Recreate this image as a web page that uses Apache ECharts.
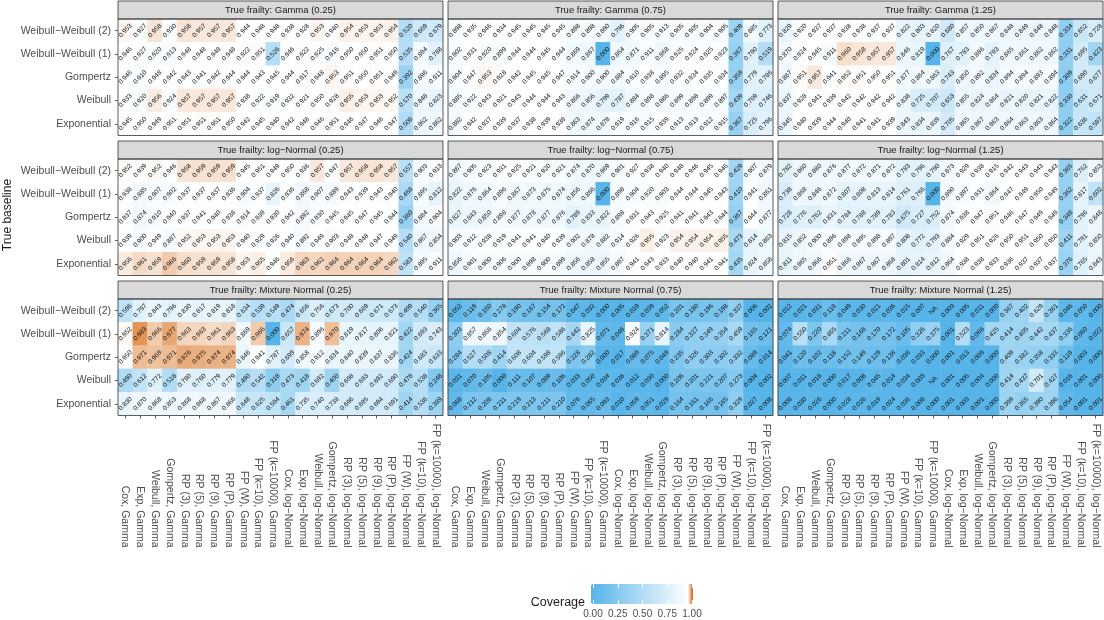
<!DOCTYPE html>
<html>
<head>
<meta charset="utf-8">
<script src="https://cdn.jsdelivr.net/npm/echarts@6/dist/echarts.min.js"></script>
<style>
  html, body { margin: 0; padding: 0; background: #fff; }
  #main { width: 1104px; height: 620px; }
</style>
</head>
<body>
<div id="main"></div>
<script>
// fitted models (x axis) and true baselines (y axis, bottom to top)
const models = [
  'Cox, Gamma', 'Exp, Gamma', 'Weibull, Gamma', 'Gompertz, Gamma', 'RP (3), Gamma', 'RP (5), Gamma',
  'RP (9), Gamma', 'RP (P), Gamma', 'FP (W), Gamma', 'FP (k=10), Gamma', 'FP (k=10000), Gamma',
  'Cox, log\u2212Normal', 'Exp, log\u2212Normal', 'Weibull, log\u2212Normal', 'Gompertz, log\u2212Normal',
  'RP (3), log\u2212Normal', 'RP (5), log\u2212Normal', 'RP (9), log\u2212Normal', 'RP (P), log\u2212Normal',
  'FP (W), log\u2212Normal', 'FP (k=10), log\u2212Normal', 'FP (k=10000), log\u2212Normal'
]
const baselines = ['Exponential', 'Weibull', 'Gompertz', 'Weibull\u2212Weibull (1)', 'Weibull\u2212Weibull (2)']

const facetTitles = [
  'True frailty: Gamma (0.25)', 'True frailty: Gamma (0.75)', 'True frailty: Gamma (1.25)',
  'True frailty: log\u2212Normal (0.25)', 'True frailty: log\u2212Normal (0.75)', 'True frailty: log\u2212Normal (1.25)',
  'True frailty: Mixture Normal (0.25)', 'True frailty: Mixture Normal (0.75)', 'True frailty: Mixture Normal (1.25)'
]

// coverage per facet, rows listed top to bottom: WW(2), WW(1), Gompertz, Weibull, Exponential
const gamma025 = [
  [0.953,0.927,0.958,0.930,0.958,0.957,0.957,0.957,0.944,0.948,0.948,0.938,0.928,0.953,0.940,0.954,0.953,0.953,0.954,0.520,0.669,0.679],
  [0.946,0.927,0.920,0.913,0.948,0.948,0.948,0.948,0.922,0.951,0.526,0.946,0.922,0.925,0.916,0.950,0.950,0.951,0.950,0.535,0.894,0.788],
  [0.946,0.910,0.948,0.942,0.943,0.941,0.942,0.944,0.944,0.943,0.945,0.944,0.917,0.948,0.953,0.951,0.950,0.951,0.949,0.392,0.896,0.911],
  [0.933,0.920,0.956,0.924,0.957,0.957,0.957,0.957,0.938,0.922,0.919,0.932,0.921,0.950,0.928,0.955,0.953,0.953,0.952,0.570,0.848,0.823],
  [0.945,0.950,0.949,0.951,0.951,0.951,0.951,0.950,0.942,0.945,0.940,0.942,0.948,0.946,0.951,0.946,0.947,0.946,0.947,0.508,0.862,0.862]
]
const gamma075 = [
  [0.898,0.935,0.946,0.934,0.945,0.945,0.945,0.945,0.898,0.898,0.890,0.796,0.905,0.905,0.913,0.905,0.905,0.904,0.905,0.409,0.885,0.773],
  [0.902,0.931,0.920,0.899,0.944,0.944,0.945,0.944,0.869,0.867,0.000,0.864,0.871,0.911,0.868,0.925,0.924,0.925,0.923,0.367,0.790,0.519],
  [0.904,0.947,0.953,0.928,0.942,0.945,0.945,0.947,0.914,0.900,0.900,0.884,0.910,0.938,0.895,0.932,0.934,0.935,0.934,0.359,0.779,0.786],
  [0.885,0.922,0.943,0.921,0.943,0.944,0.944,0.943,0.866,0.856,0.799,0.787,0.884,0.898,0.886,0.899,0.898,0.899,0.897,0.439,0.769,0.746],
  [0.882,0.942,0.937,0.939,0.937,0.938,0.939,0.938,0.863,0.874,0.878,0.919,0.916,0.915,0.939,0.913,0.913,0.912,0.915,0.367,0.725,0.796]
]
const gamma125 = [
  [0.829,0.920,0.937,0.937,0.938,0.938,0.937,0.937,0.822,0.803,0.820,0.680,0.857,0.850,0.867,0.848,0.849,0.848,0.848,0.334,0.652,0.728],
  [0.870,0.924,0.945,0.911,0.960,0.958,0.957,0.957,0.846,0.819,0.000,0.767,0.783,0.886,0.793,0.865,0.861,0.862,0.862,0.331,0.695,0.423],
  [0.867,0.951,0.957,0.941,0.952,0.951,0.950,0.951,0.877,0.864,0.863,0.743,0.850,0.892,0.834,0.894,0.894,0.893,0.894,0.309,0.690,0.677],
  [0.837,0.928,0.941,0.939,0.942,0.942,0.942,0.942,0.838,0.725,0.707,0.653,0.855,0.824,0.864,0.821,0.820,0.821,0.822,0.330,0.631,0.671],
  [0.845,0.940,0.939,0.944,0.940,0.941,0.941,0.939,0.843,0.834,0.839,0.705,0.865,0.867,0.863,0.864,0.863,0.863,0.864,0.322,0.636,0.597]
]
const lognorm025 = [
  [0.952,0.939,0.952,0.946,0.958,0.959,0.959,0.959,0.945,0.951,0.949,0.950,0.936,0.957,0.947,0.957,0.958,0.958,0.957,0.557,0.903,0.913],
  [0.938,0.885,0.907,0.902,0.937,0.937,0.937,0.936,0.904,0.937,0.826,0.936,0.868,0.907,0.889,0.943,0.939,0.943,0.940,0.468,0.895,0.812],
  [0.937,0.874,0.910,0.940,0.937,0.941,0.940,0.938,0.914,0.939,0.930,0.942,0.892,0.930,0.945,0.945,0.947,0.945,0.944,0.360,0.884,0.904],
  [0.939,0.900,0.949,0.887,0.952,0.953,0.953,0.953,0.940,0.929,0.926,0.940,0.892,0.949,0.903,0.948,0.948,0.947,0.949,0.540,0.867,0.854],
  [0.956,0.961,0.959,0.966,0.960,0.959,0.959,0.958,0.953,0.955,0.946,0.956,0.963,0.962,0.964,0.964,0.964,0.964,0.962,0.583,0.895,0.911]
]
const lognorm075 = [
  [0.867,0.905,0.923,0.931,0.925,0.921,0.920,0.921,0.874,0.870,0.869,0.901,0.927,0.938,0.940,0.948,0.946,0.945,0.946,0.429,0.907,0.879],
  [0.822,0.876,0.864,0.896,0.867,0.873,0.875,0.874,0.856,0.866,0.000,0.898,0.904,0.920,0.903,0.944,0.944,0.945,0.943,0.410,0.941,0.861],
  [0.827,0.843,0.850,0.898,0.877,0.878,0.877,0.876,0.789,0.833,0.822,0.898,0.931,0.943,0.925,0.941,0.941,0.943,0.944,0.367,0.944,0.877],
  [0.903,0.912,0.938,0.919,0.941,0.941,0.940,0.939,0.902,0.878,0.882,0.914,0.926,0.955,0.923,0.954,0.954,0.954,0.955,0.473,0.814,0.863],
  [0.856,0.901,0.900,0.906,0.900,0.898,0.900,0.899,0.856,0.858,0.855,0.897,0.941,0.943,0.933,0.940,0.940,0.941,0.941,0.435,0.824,0.858]
]
const lognorm125 = [
  [0.782,0.860,0.880,0.876,0.877,0.872,0.871,0.872,0.783,0.796,0.790,0.873,0.929,0.938,0.915,0.942,0.943,0.943,0.943,0.365,0.762,0.853],
  [0.738,0.868,0.846,0.872,0.807,0.808,0.813,0.814,0.761,0.766,0.000,0.890,0.897,0.931,0.864,0.947,0.949,0.950,0.949,0.362,0.817,0.602],
  [0.728,0.776,0.762,0.831,0.784,0.788,0.789,0.783,0.675,0.727,0.752,0.874,0.938,0.947,0.951,0.946,0.947,0.949,0.949,0.348,0.796,0.848],
  [0.815,0.852,0.900,0.896,0.898,0.895,0.898,0.897,0.808,0.772,0.793,0.884,0.929,0.951,0.926,0.950,0.951,0.950,0.950,0.411,0.791,0.850],
  [0.811,0.865,0.866,0.951,0.866,0.867,0.867,0.868,0.801,0.814,0.812,0.864,0.938,0.938,0.933,0.936,0.937,0.937,0.937,0.376,0.765,0.843]
]
const mixnorm025 = [
  [0.596,0.797,0.843,0.796,0.830,0.817,0.819,0.818,0.634,0.539,0.549,0.474,0.656,0.756,0.673,0.700,0.669,0.671,0.673,0.499,0.540,0.365],
  [0.952,0.983,0.966,0.977,0.963,0.963,0.961,0.963,0.869,0.966,0.000,0.657,0.974,0.896,0.970,0.819,0.817,0.806,0.821,0.422,0.693,0.743],
  [0.950,0.971,0.969,0.971,0.976,0.975,0.974,0.974,0.846,0.941,0.787,0.699,0.858,0.912,0.834,0.840,0.839,0.837,0.836,0.424,0.683,0.633],
  [0.490,0.612,0.772,0.518,0.780,0.760,0.779,0.779,0.490,0.542,0.318,0.473,0.418,0.692,0.400,0.698,0.693,0.692,0.690,0.478,0.538,0.248],
  [0.830,0.870,0.868,0.853,0.868,0.868,0.867,0.866,0.648,0.625,0.594,0.461,0.735,0.740,0.738,0.696,0.695,0.694,0.691,0.414,0.536,0.389]
]
const mixnorm075 = [
  [0.052,0.119,0.160,0.278,0.190,0.167,0.154,0.172,0.047,0.032,0.000,0.005,0.019,0.039,0.052,0.201,0.180,0.196,0.198,0.337,0.006,0.002],
  [0.303,0.857,0.866,0.854,0.604,0.576,0.568,0.586,0.442,0.825,0.071,0.046,0.924,0.371,0.814,0.284,0.327,0.349,0.354,0.459,0.165,0.121],
  [0.284,0.527,0.508,0.414,0.608,0.604,0.598,0.596,0.228,0.282,0.000,0.017,0.089,0.075,0.049,0.235,0.326,0.303,0.302,0.332,0.089,0.014],
  [0.031,0.070,0.105,0.000,0.111,0.107,0.089,0.106,0.033,0.050,0.034,0.036,0.012,0.030,0.000,0.206,0.201,0.221,0.207,0.273,0.004,0.002],
  [0.068,0.212,0.208,0.211,0.219,0.213,0.211,0.210,0.076,0.065,0.093,0.010,0.059,0.051,0.029,0.164,0.161,0.166,0.165,0.329,0.027,0.008]
]
const mixnorm125 = [
  [0.012,0.021,0.031,0.118,0.049,0.030,0.021,0.036,0.015,0.007,null,0.003,0.005,0.011,0.000,0.367,0.402,0.629,0.361,0.046,0.050,0.000],
  [0.074,0.550,0.220,0.465,0.211,0.166,0.170,0.172,0.105,0.326,0.375,0.001,0.523,0.066,0.425,0.414,0.405,0.442,0.437,0.336,0.060,0.022],
  [0.041,0.120,0.102,0.118,0.152,0.149,0.129,0.138,0.036,0.033,0.000,0.001,0.013,0.009,0.000,0.409,0.382,0.358,0.333,0.119,0.003,0.000],
  [0.007,0.011,0.018,0.000,0.017,0.008,0.045,0.014,0.034,0.003,null,0.001,0.005,0.004,0.000,0.414,0.437,0.701,0.427,0.016,0.001,0.000],
  [0.008,0.030,0.026,0.000,0.028,0.026,0.019,0.024,0.036,0.008,0.000,0.001,0.003,0.001,0.000,0.399,0.365,0.390,0.396,0.054,0.001,0.001]
]

const facets = [gamma025, gamma075, gamma125, lognorm025, lognorm075, lognorm125, mixnorm025, mixnorm075, mixnorm125]
const legendTicks = [0, 0.25, 0.5, 0.75, 1]

// layout
const FONT = '"Liberation Sans", Arial, sans-serif'
const panelLeft = [118, 448, 778]
const panelTop = [19, 159, 299]
const PANEL_W = 325
const PANEL_H = 116.5
const STRIP_H = 18

// blue -> white at 0.95 -> orange at 1, stops every 0.05
function mix(a, b, t) {
  return 'rgb(' + a.map((v, i) => Math.round(v + (b[i] - v) * t)).join(',') + ')'
}
const low = [86, 180, 233]
const mid = [255, 255, 255]
const high = [213, 94, 0]
const colorStops = []
for (let i = 0; i < 20; i++) colorStops.push(mix(low, mid, i / 19))
colorStops.push(mix(high, high, 0))

const grid = []
const xAxis = []
const yAxis = []
const series = []
const graphic = []

facets.forEach((m, k) => {
  const r = Math.floor(k / 3)
  const c = k % 3
  const left = panelLeft[c]
  const top = panelTop[r]
  grid.push({ left, top, width: PANEL_W, height: PANEL_H })
  xAxis.push({
    type: 'category', gridIndex: k, data: models,
    axisLine: { show: false },
    axisTick: { show: r === 2, alignWithLabel: true, length: 3, lineStyle: { color: '#333', width: 0.8 } },
    axisLabel: {
      show: r === 2, interval: 0, rotate: -90, align: 'right', margin: 132,
      fontSize: 10.5, color: '#4d4d4d', fontFamily: FONT
    },
    splitLine: { show: false }
  })
  yAxis.push({
    type: 'category', gridIndex: k, data: baselines,
    axisLine: { show: false },
    axisTick: { show: c === 0, alignWithLabel: true, length: 3, lineStyle: { color: '#333', width: 0.8 } },
    axisLabel: { show: c === 0, margin: 7, fontSize: 10.5, color: '#4d4d4d', fontFamily: FONT },
    splitLine: { show: false }
  })
  const data = []
  m.forEach((row, i) => {
    row.forEach((v, j) => data.push([j, 4 - i, v == null ? -1 : v]))
  })
  series.push({
    type: 'heatmap', xAxisIndex: k, yAxisIndex: k, data,
    label: {
      show: true, rotate: 45, fontSize: 6.5, color: '#111', fontFamily: FONT,
      formatter: (p) => (p.value[2] < 0 ? 'NA' : p.value[2].toFixed(3))
    },
    emphasis: { disabled: true }
  })
  // strip + panel border
  graphic.push({
    type: 'rect', z: 100,
    shape: { x: left, y: top - STRIP_H, width: PANEL_W, height: STRIP_H },
    style: { fill: '#d9d9d9', stroke: '#333', lineWidth: 0.8 }
  })
  graphic.push({
    type: 'text', z: 101, x: left + PANEL_W / 2, y: top - STRIP_H / 2,
    style: { text: facetTitles[k], fill: '#1a1a1a', fontSize: 9.5, fontFamily: FONT, align: 'center', verticalAlign: 'middle' }
  })
  graphic.push({
    type: 'rect', z: 100,
    shape: { x: left, y: top, width: PANEL_W, height: PANEL_H },
    style: { fill: null, stroke: '#333', lineWidth: 0.8 }
  })
})

// colour bar tick labels
grid.push({ left: 593, top: 584, width: 99, height: 20 })
const legendAxis = (position, showLabel) => ({
  type: 'value', gridIndex: 9, position, min: 0, max: 1, interval: 0.25, z: 10,
  axisLine: { show: false },
  splitLine: { show: false },
  axisTick: { show: true, inside: true, length: 4, lineStyle: { color: '#fff', width: 1 } },
  axisLabel: {
    show: showLabel, margin: 5, fontSize: 10, color: '#4d4d4d', fontFamily: FONT,
    formatter: (v) => (legendTicks.includes(v) ? v.toFixed(2) : '')
  }
})
xAxis.push(legendAxis('bottom', true))
xAxis.push(legendAxis('top', false))
yAxis.push({ type: 'value', gridIndex: 9, show: false })

graphic.push({
  type: 'text', x: 8, y: 215, rotation: Math.PI / 2,
  style: { text: 'True baseline', fill: '#1a1a1a', fontSize: 12, fontFamily: FONT, align: 'center', verticalAlign: 'middle' }
})
graphic.push({
  type: 'text', x: 585, y: 603,
  style: { text: 'Coverage', fill: '#1a1a1a', fontSize: 12.5, fontFamily: FONT, align: 'right', verticalAlign: 'middle' }
})

const chart = echarts.init(document.getElementById('main'))
chart.setOption({
  animation: false,
  backgroundColor: '#fff',
  grid, xAxis, yAxis, series, graphic,
  visualMap: {
    type: 'continuous', min: 0, max: 1, calculable: false, orient: 'horizontal',
    left: 591, top: 584, itemWidth: 20, itemHeight: 102, padding: 0,
    seriesIndex: [0, 1, 2, 3, 4, 5, 6, 7, 8], hoverLink: false,
    inRange: { color: colorStops },
    outOfRange: { color: '#7f7f7f' }
  }
})
</script>
</body>
</html>
